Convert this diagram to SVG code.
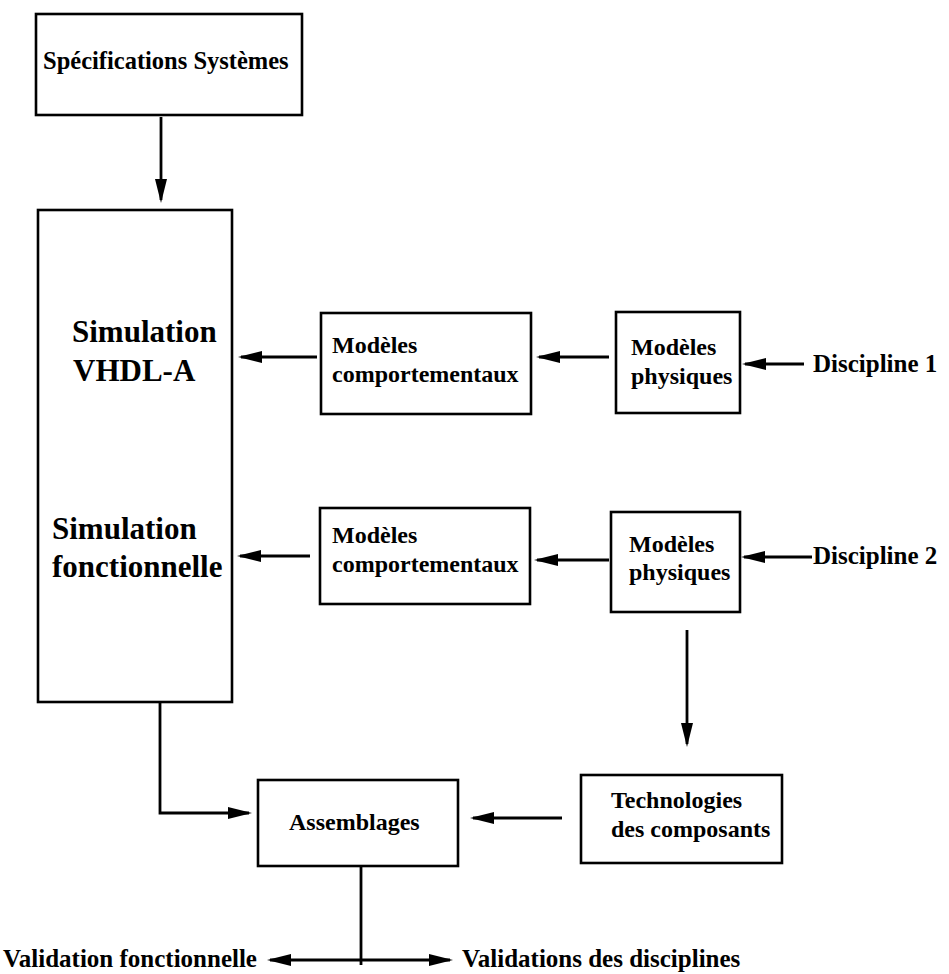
<svg xmlns="http://www.w3.org/2000/svg" width="949" height="974" viewBox="0 0 949 974">
<style>
.box{fill:#fff;stroke:#000;stroke-width:2.6}
.t{font-family:"Liberation Serif","Times New Roman",serif;font-weight:bold;font-size:24px;fill:#000}
.big{font-size:31px}
.con{fill:none;stroke:#000;stroke-width:2.8}
</style>
<defs>
<marker id="ah" markerUnits="userSpaceOnUse" markerWidth="24" markerHeight="12" refX="21" refY="6" orient="auto">
<path d="M0,0 L24,6 L0,12 z" fill="#000"/>
</marker>
</defs>
<rect width="949" height="974" fill="#fff"/>
<g id="connectors">
<path class="con" d="M161,117 V200" marker-end="url(#ah)"/>
<path class="con" d="M317,357 H241" marker-end="url(#ah)"/>
<path class="con" d="M609,357 H539" marker-end="url(#ah)"/>
<path class="con" d="M804,364 H745" marker-end="url(#ah)"/>
<path class="con" d="M310,556 H240" marker-end="url(#ah)"/>
<path class="con" d="M609,560 H537" marker-end="url(#ah)"/>
<path class="con" d="M812,557 H744" marker-end="url(#ah)"/>
<path class="con" d="M687,630 V744" marker-end="url(#ah)"/>
<path class="con" d="M160,702 V813 H249" marker-end="url(#ah)"/>
<path class="con" d="M562,818 H473" marker-end="url(#ah)"/>
<path class="con" d="M361,866 V965"/>
<path class="con" d="M361,960 H270" marker-end="url(#ah)"/>
<path class="con" d="M361,960 H450" marker-end="url(#ah)"/>
</g>
<g id="spec">
<rect class="box" x="36" y="14" width="266" height="101"/>
<text class="t" x="43" y="69" style="font-size:24.5px">Spécifications Systèmes</text>
</g>
<g id="simulation">
<rect class="box" x="38" y="210" width="194" height="492"/>
<text class="t big" x="72" y="342">Simulation</text>
<text class="t big" x="73" y="381">VHDL-A</text>
<text class="t big" x="52" y="539">Simulation</text>
<text class="t big" x="52" y="577">fonctionnelle</text>
</g>
<g id="comp1">
<rect class="box" x="321" y="313" width="210" height="101"/>
<text class="t" x="332" y="353">Modèles</text>
<text class="t" x="332" y="382">comportementaux</text>
</g>
<g id="phys1">
<rect class="box" x="616" y="312" width="124" height="101"/>
<text class="t" x="631" y="355">Modèles</text>
<text class="t" x="631" y="384">physiques</text>
</g>
<g id="disc1">
<text class="t" x="813" y="372" style="font-size:25px">Discipline 1</text>
</g>
<g id="comp2">
<rect class="box" x="320" y="508" width="210" height="96"/>
<text class="t" x="332" y="543">Modèles</text>
<text class="t" x="332" y="572">comportementaux</text>
</g>
<g id="phys2">
<rect class="box" x="611" y="512" width="129" height="100"/>
<text class="t" x="629" y="552">Modèles</text>
<text class="t" x="629" y="580">physiques</text>
</g>
<g id="disc2">
<text class="t" x="813" y="564" style="font-size:25px">Discipline 2</text>
</g>
<g id="assemblages">
<rect class="box" x="258" y="780" width="200" height="86"/>
<text class="t" x="289" y="830">Assemblages</text>
</g>
<g id="techno">
<rect class="box" x="581" y="775" width="201" height="88"/>
<text class="t" x="611" y="808">Technologies</text>
<text class="t" x="611" y="837">des composants</text>
</g>
<g id="valid-fonc">
<text class="t" x="3" y="967" style="font-size:25px">Validation fonctionnelle</text>
</g>
<g id="valid-disc">
<text class="t" x="462" y="967" style="font-size:25px">Validations des disciplines</text>
</g>
</svg>
